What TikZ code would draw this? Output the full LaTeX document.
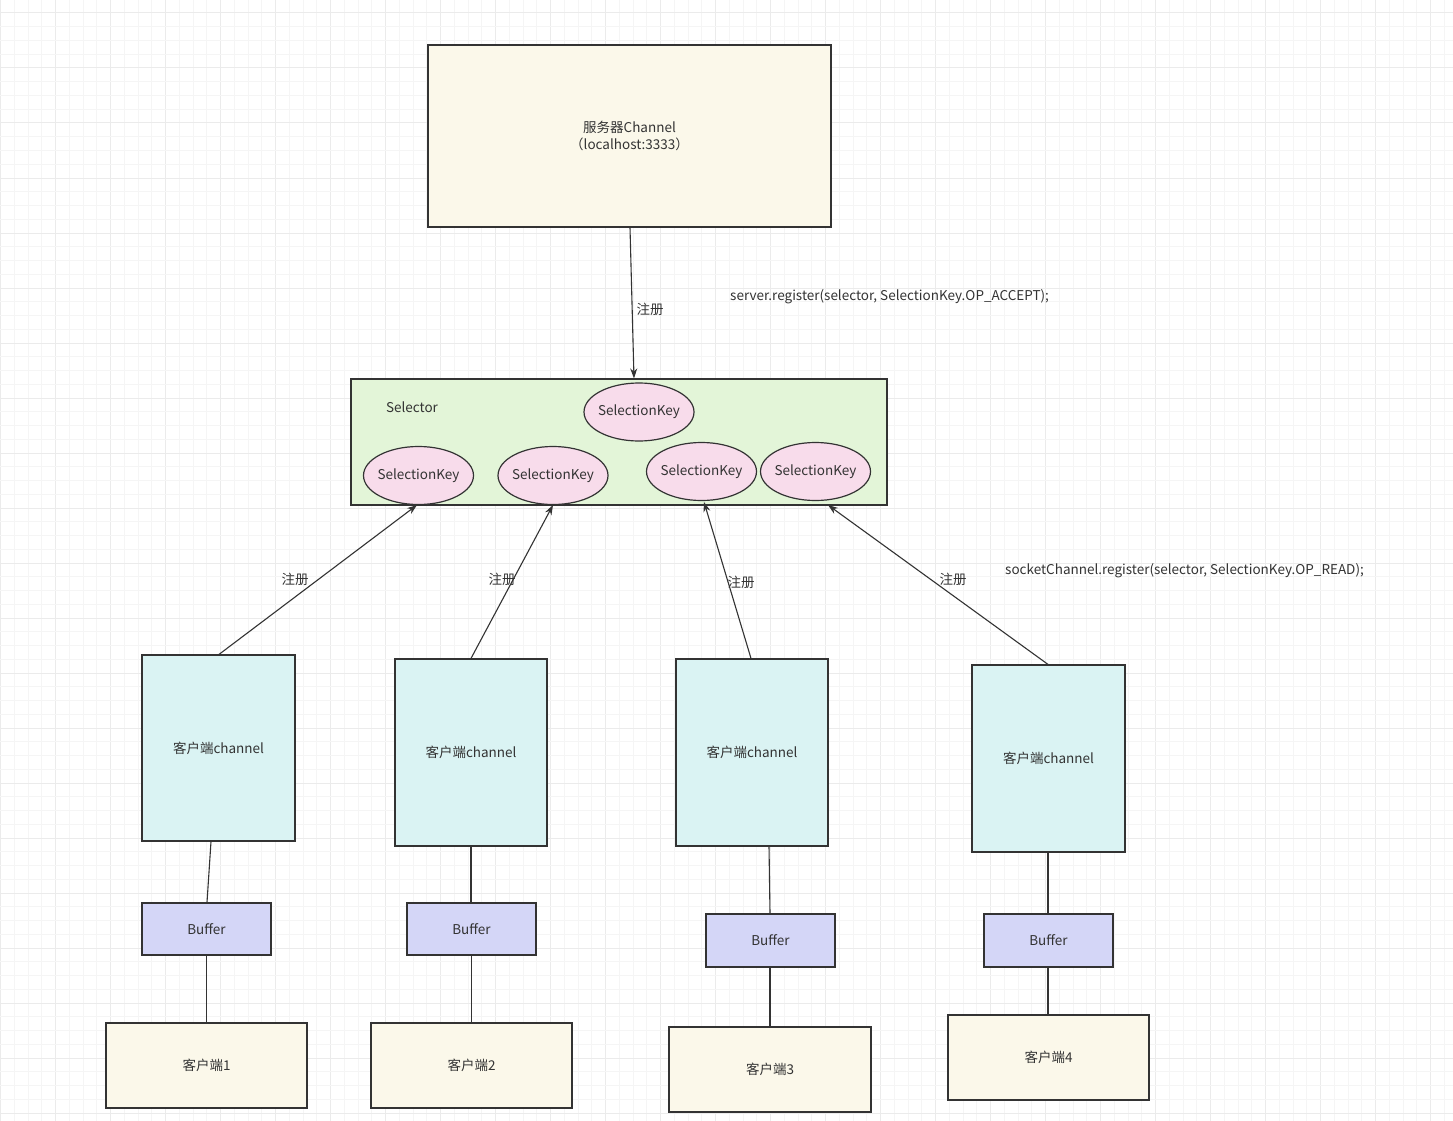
\documentclass[tikz,border=0pt]{standalone}
\usepackage{fontspec}
\setmainfont{Noto Sans CJK SC}
\usetikzlibrary{arrows.meta,shapes.geometric,calc}
\definecolor{gridminor}{HTML}{F5F5F5}
\definecolor{gridmajor}{HTML}{EBEBEB}
\definecolor{cream}{HTML}{FBF8EA}
\definecolor{selgreen}{HTML}{E3F5D8}
\definecolor{keypink}{HTML}{F8DCEB}
\definecolor{chancyan}{HTML}{DAF3F3}
\definecolor{bufblue}{HTML}{D4D6F7}
\definecolor{edge}{HTML}{333333}
\definecolor{txt}{HTML}{333333}
\begin{document}
\begin{tikzpicture}[x=1pt,y=-1pt,
  every node/.style={font=\fontsize{13.5}{16.5}\selectfont, text=txt},
  box/.style={draw=edge, line width=1.2pt, rectangle, inner sep=0pt, align=center},
  keynode/.style={draw=edge, line width=1.2pt, ellipse, fill=keypink, minimum width=110pt, minimum height=58pt, inner sep=0pt},
  link/.style={draw=edge, line width=1.1pt},
  regarrow/.style={link, -{Stealth[length=10pt,width=7pt]}},
  lbl/.style={inner sep=1pt}
]
\newcommand{\keytext}{\makebox[0pt]{\raisebox{-2pt}{SelectionKey}}}
\useasboundingbox (0,0) rectangle (1453,1121);
\fill[white] (0,0) rectangle (1453,1121);
% grid
\foreach \i in {0,...,106}{
  \pgfmathtruncatemacro{\m}{mod(\i,4)}
  \ifnum\m=0 \def\gc{gridmajor}\else\def\gc{gridminor}\fi
  \draw[\gc, line width=1pt] ({0.5+13.75*\i},0) -- ({0.5+13.75*\i},1121);
}
\foreach \j in {0,...,82}{
  \pgfmathtruncatemacro{\m}{mod(\j+3,4)}
  \ifnum\m=0 \def\gc{gridmajor}\else\def\gc{gridminor}\fi
  \draw[\gc, line width=1pt] (0,{-0.75+13.75*\j}) -- (1453,{-0.75+13.75*\j});
}

% server
\node[box, fill=cream, minimum width=403pt, minimum height=182pt] (server) at (629.5,136) {\raisebox{-1.5pt}{服务器Channel}\\\raisebox{-1.5pt}{（localhost:3333）}};

% selector
\node[box, fill=selgreen, minimum width=536pt, minimum height=126pt] (selector) at (619,442) {};
\node[lbl] (seltxt) at (412,407) {Selector};
\node[keynode] (k0) at (639,412) {\keytext};
\node[keynode] (k1) at (418.5,475.5) {\keytext};
\node[keynode] (k2) at (553,475.5) {\keytext};
\node[keynode] (k3) at (701.5,471.5) {\keytext};
\node[keynode] (k4) at (815.5,471.5) {\keytext};

\node[lbl, anchor=west] (acc) at (729,297) {server.register(selector, SelectionKey.OP\_ACCEPT);};
\node[lbl, anchor=west] (rd) at (1004,571) {socketChannel.register(selector, SelectionKey.OP\_READ);};

% client channels
\node[box, fill=chancyan, minimum width=153pt, minimum height=186pt] (c1) at (218.5,748) {\raisebox{-2pt}{客户端channel}};
\node[box, fill=chancyan, minimum width=152pt, minimum height=187pt] (c2) at (471,752.5) {\raisebox{-2pt}{客户端channel}};
\node[box, fill=chancyan, minimum width=152pt, minimum height=187pt] (c3) at (752,752.5) {\raisebox{-2pt}{客户端channel}};
\node[box, fill=chancyan, minimum width=153pt, minimum height=187pt] (c4) at (1048.5,758.5) {\raisebox{-2pt}{客户端channel}};

% buffers
\node[box, fill=bufblue, minimum width=129pt, minimum height=52pt] (b1) at (206.5,929) {Buffer};
\node[box, fill=bufblue, minimum width=129pt, minimum height=52pt] (b2) at (471.5,929) {Buffer};
\node[box, fill=bufblue, minimum width=129pt, minimum height=53pt] (b3) at (770.5,940.5) {Buffer};
\node[box, fill=bufblue, minimum width=129pt, minimum height=53pt] (b4) at (1048.5,940.5) {Buffer};

% clients
\node[box, fill=cream, minimum width=201pt, minimum height=85pt] (cl1) at (206.5,1065.5) {\raisebox{-1.5pt}{客户端1}};
\node[box, fill=cream, minimum width=201pt, minimum height=85pt] (cl2) at (471.5,1065.5) {\raisebox{-1.5pt}{客户端2}};
\node[box, fill=cream, minimum width=202pt, minimum height=85pt] (cl3) at (770,1069.5) {\raisebox{-1.5pt}{客户端3}};
\node[box, fill=cream, minimum width=201pt, minimum height=85pt] (cl4) at (1048.5,1057.5) {\raisebox{-1.5pt}{客户端4}};

% register arrows
\draw[regarrow] ([xshift=0.5pt]server.south) -- ([xshift=15pt]selector.north) node[lbl, pos=0.54, right=3pt] (r0) {注册};
\coordinate (t1) at (417,505);
\coordinate (t2) at (553,505);
\coordinate (t3) at (704,502);
\coordinate (t4) at (828,505);
\draw[regarrow] ([xshift=0.5pt]c1.north) -- (t1);
\node[lbl] (r1) at (295,579) {注册};
\draw[regarrow] (c2.north) -- (t2);
\node[lbl] (r2) at (502,579) {注册};
\draw[regarrow] ([xshift=-1pt]c3.north) -- (t3);
\node[lbl] (r3) at (741,582) {注册};
\draw[regarrow] ([xshift=-0.5pt]c4.north) -- (t4);
\node[lbl] (r4) at (953,579) {注册};

% channel - buffer - client
\draw[link] ([xshift=-7.5pt]c1.south) -- ([xshift=0.5pt]b1.north);
\draw[link] (b1.south) -- (cl1.north);
\draw[link] (c2.south) -- ([xshift=-0.5pt]b2.north);
\draw[link] (b2.south) -- (cl2.north);
\draw[link] ([xshift=17pt]c3.south) -- ([xshift=-0.5pt]b3.north);
\draw[link] ([xshift=-0.5pt]b3.south) -- (cl3.north);
\draw[link] ([xshift=-0.5pt]c4.south) -- ([xshift=-0.5pt]b4.north);
\draw[link] ([xshift=-0.5pt]b4.south) -- ([xshift=-0.5pt]cl4.north);
\end{tikzpicture}
\end{document}
